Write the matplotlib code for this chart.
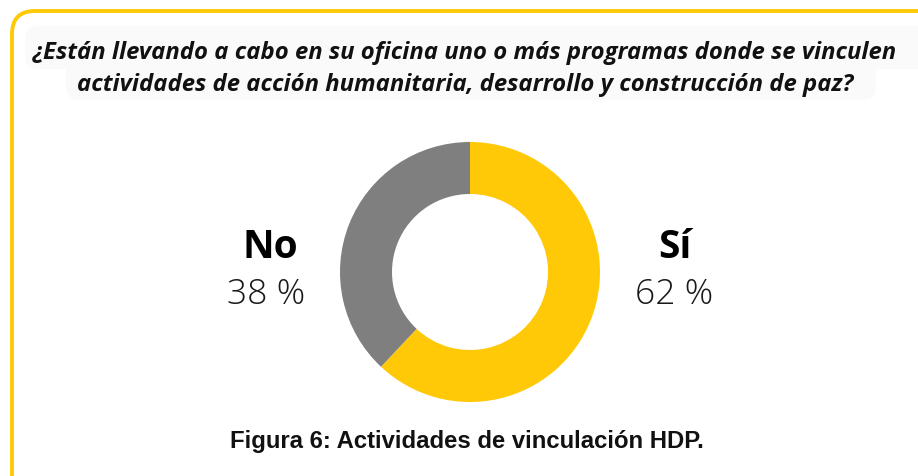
import matplotlib.pyplot as plt
from matplotlib.patches import FancyBboxPatch

# Data
labels = ['Sí', 'No']
values = [62, 38]
colors = ['#FFC907', '#7F7F7F']
pct_text = ['62 %', '38 %']

title_lines = ['¿Están llevando a cabo en su oficina uno o más programas donde se vinculen',
               'actividades de acción humanitaria, desarrollo y construcción de paz?']
caption = 'Figura 6: Actividades de vinculación HDP.'

W, H = 918, 477
fig = plt.figure(figsize=(W / 100, H / 100), dpi=100)
fig.patch.set_facecolor('white')


def px_box(x0, y0, x1, y1, **kw):
    # box given in pixel coords measured from the top-left corner
    return FancyBboxPatch((x0 / W, (H - y1) / H), (x1 - x0) / W, (y1 - y0) / H,
                          transform=fig.transFigure, mutation_aspect=W / H, **kw)


# rounded yellow frame (runs past right and bottom edges)
frame = px_box(12, 12, W + 40, H + 40, boxstyle='round,pad=0,rounding_size=0.025',
               facecolor='none', edgecolor='#FFC907', linewidth=2.8, zorder=-2)
fig.patches.append(frame)

# title background, one pill per line
fig.patches.append(px_box(25, 27, W + 10, 70, boxstyle='round,pad=0,rounding_size=0.015',
                          facecolor='#FAFAFA', edgecolor='none', zorder=-3))
fig.patches.append(px_box(66, 60, 876, 101, boxstyle='round,pad=0,rounding_size=0.015',
                          facecolor='#FAFAFA', edgecolor='none', zorder=-3))

for i, line in enumerate(title_lines):
    fig.text(465 / W, (H - 53 - 32 * i) / H, line, ha='center', va='center',
             fontsize=17.2, fontweight='bold', fontstyle='italic',
             family='Open Sans', color='#111111')

# donut
cx, cy, r = 470, 273, 130
ax = fig.add_axes([(cx - r) / W, (H - cy - r) / H, 2 * r / W, 2 * r / H])
ax.pie(values, colors=colors, startangle=90, counterclock=False,
       wedgeprops=dict(width=52 / 130, edgecolor='none'), radius=1)
ax.set_xlim(-1, 1)
ax.set_ylim(-1, 1)
ax.set_aspect('equal')
ax.axis('off')

# labels
fig.text(270 / W, (H - 247) / H, labels[1], ha='center', va='center',
         fontsize=28, fontweight='bold', family='Open Sans', color='black')
fig.text(266 / W, (H - 295) / H, pct_text[1], ha='center', va='center',
         fontsize=25.5, fontweight='light', family='Open Sans', color='#1A1A1A')
fig.text(675 / W, (H - 247) / H, labels[0], ha='center', va='center',
         fontsize=28, fontweight='bold', family='Open Sans', color='black')
fig.text(674 / W, (H - 295) / H, pct_text[0], ha='center', va='center',
         fontsize=25.5, fontweight='light', family='Open Sans', color='#1A1A1A')

fig.text(467 / W, (H - 442) / H, caption, ha='center', va='center',
         fontsize=17.2, fontweight='bold', family='Liberation Sans', color='#111111')

fig.savefig('out.png', dpi=100)
